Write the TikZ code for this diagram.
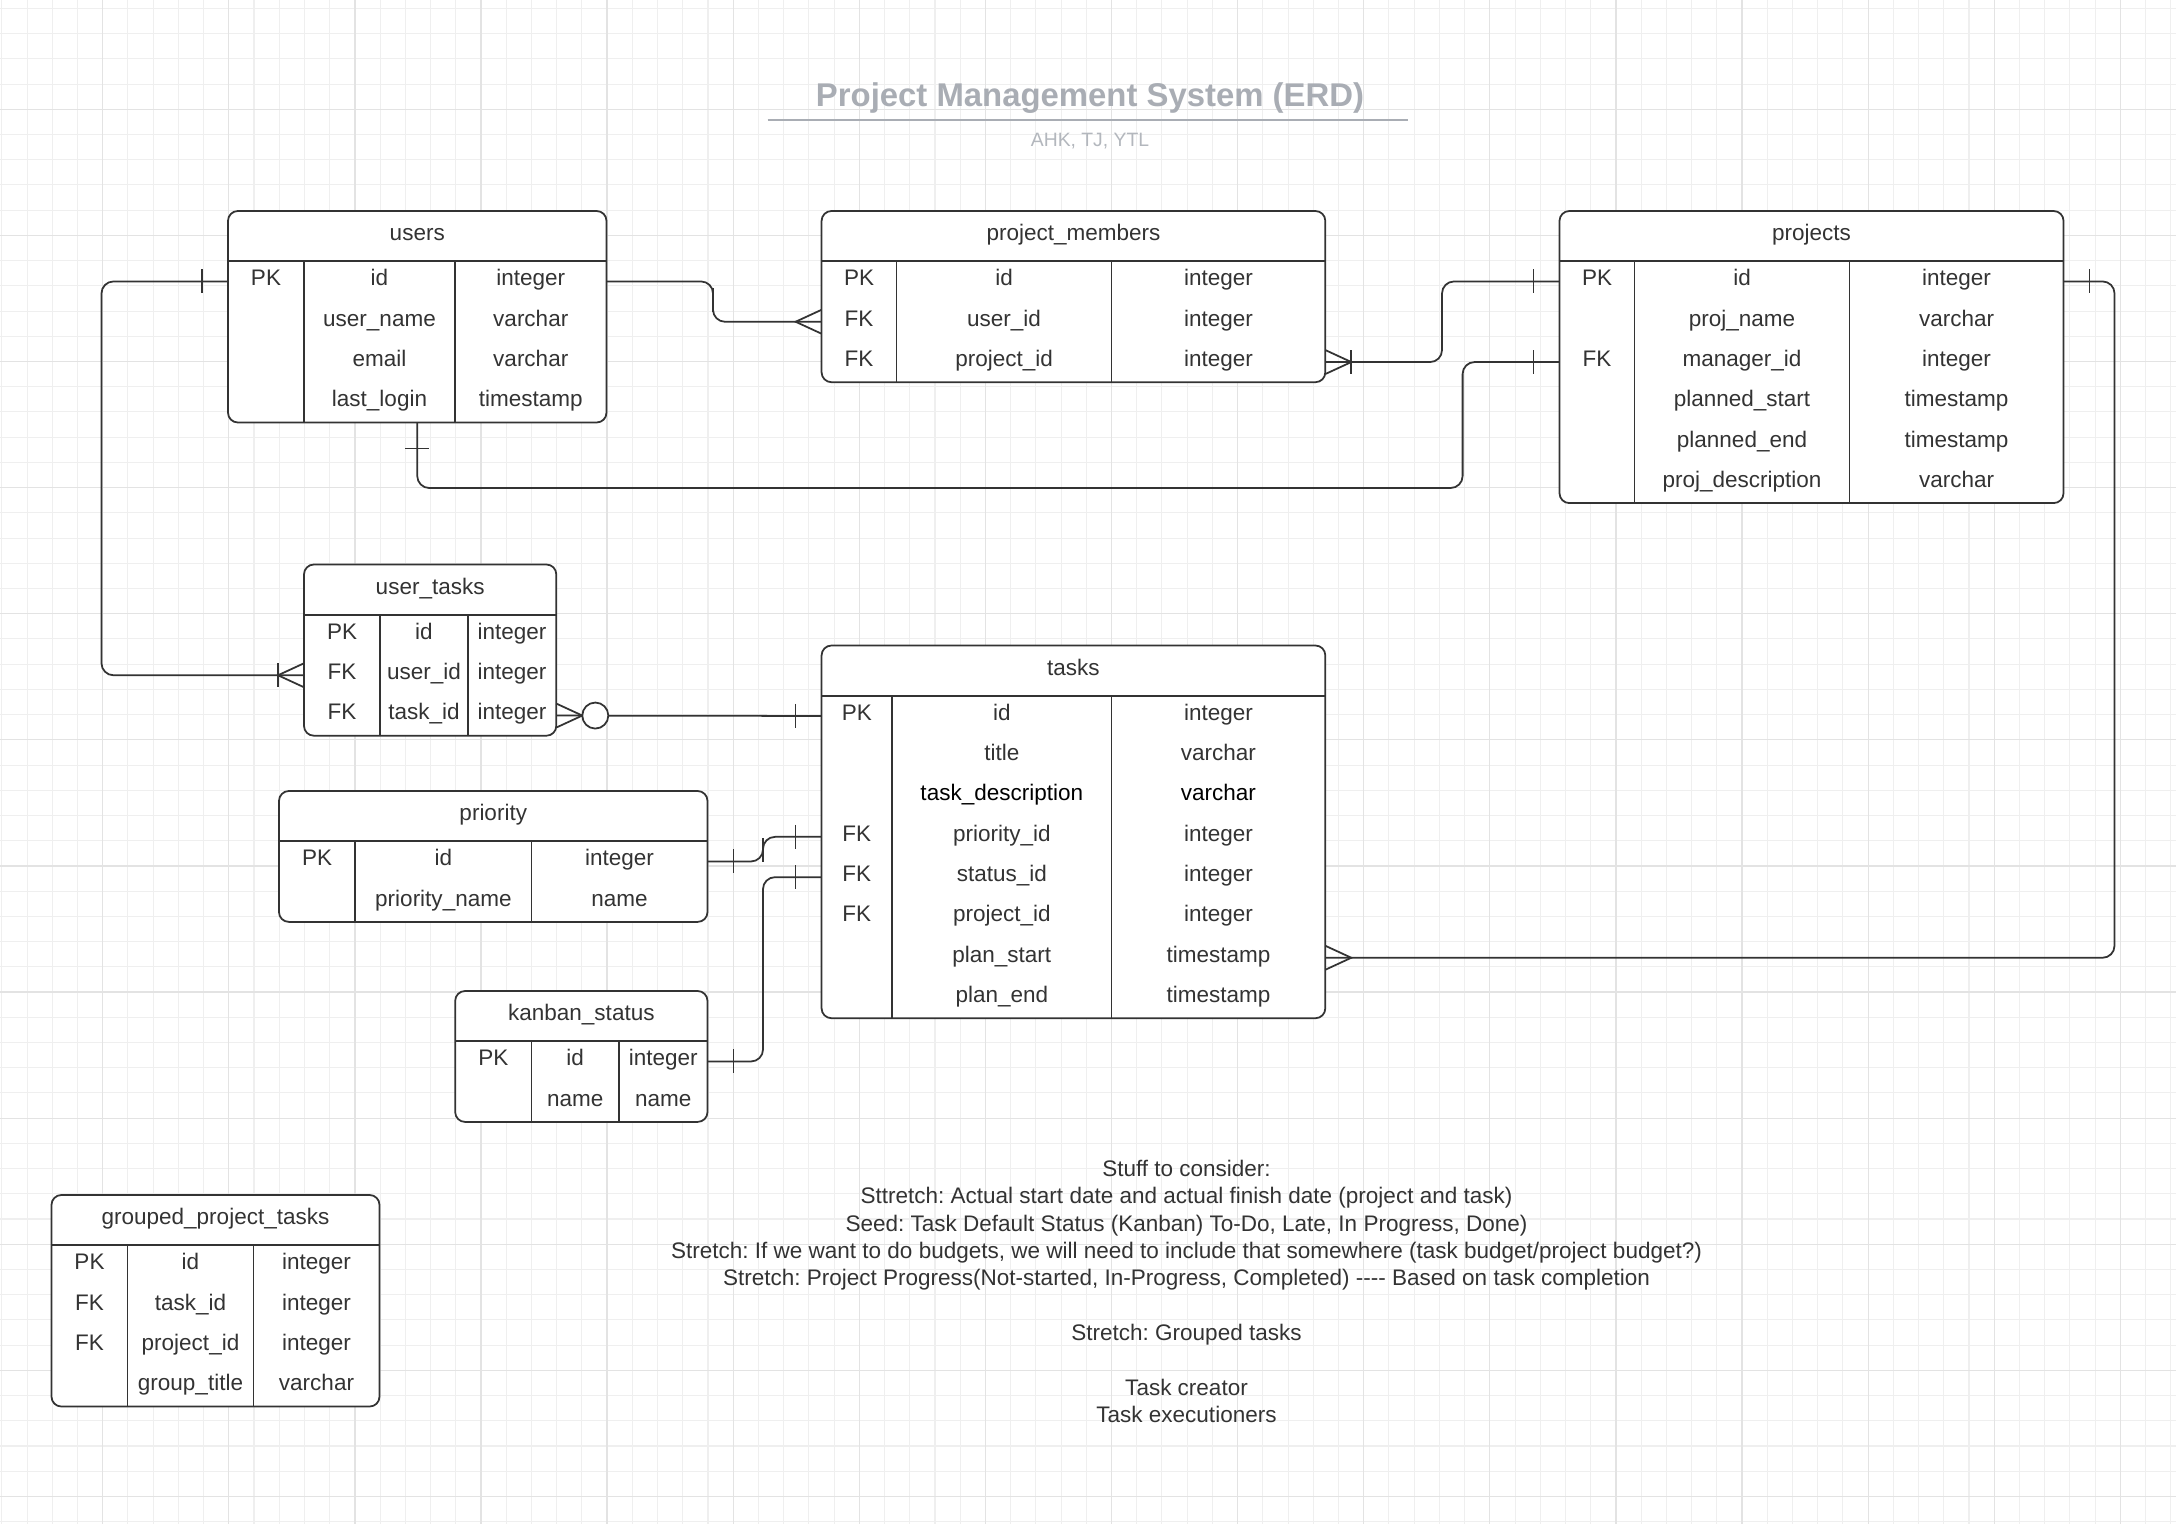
\documentclass[tikz,border=0pt]{standalone}
\usepackage{fontspec}
\setmainfont{Liberation Sans}
\frenchspacing

\definecolor{erdline}{HTML}{333333}
\definecolor{erdtext}{HTML}{333333}
\definecolor{titlegray}{HTML}{A9ADB4}
\definecolor{subgray}{HTML}{B3B7BD}
\definecolor{gridminor}{HTML}{EFEFEF}
\definecolor{gridmajor}{HTML}{E3E3E3}

% #1 name, #2 title, #3 left, #4 top, #5 first divider, #6 second divider, #7 right, #8 rows
\newcommand{\erdtable}[8]{%
  \foreach \ky/\fd/\ty [count=\rw] in {#8} {\xdef\nrows{\rw}}
  \node[tablebox, minimum width={(#7-#3)*0.01cm},
        minimum height={(50.3+40.3*\nrows)*0.01cm}] (#1) at (#3,#4) {};
  \node[cell] (#1-title) at ({(#3+#7)/2},{#4+25.15}) {#2};
  \draw[tableline] (#3,{#4+50.3}) -- (#7,{#4+50.3})
    (#5,{#4+50.3}) -- (#5,{#4+50.3+40.3*\nrows})
    (#6,{#4+50.3}) -- (#6,{#4+50.3+40.3*\nrows});
  \foreach \ky/\fd/\ty [count=\rw] in {#8} {
    \node[cell] (#1-k\rw) at ({(#3+#5)/2},{#4+70.45+40.3*(\rw-1)}) {\ky};
    \node[cell] (#1-\rw) at ({(#5+#6)/2},{#4+70.45+40.3*(\rw-1)}) {\fd};
    \node[cell] (#1-t\rw) at ({(#6+#7)/2},{#4+70.45+40.3*(\rw-1)}) {\ty};
  }
}

\begin{document}
\begin{tikzpicture}[
            x = 0.01cm, y = -0.01cm,
            cell/.style = {
                text = erdtext, inner sep = 0pt,
                font = \fontsize{6.4}{7.7}\selectfont,
                text height = 4.6pt, text depth = 2.1pt,
            },
            tablebox/.style = {
                draw = erdline, fill = white, line width = 0.5pt,
                rounded corners = 2.8pt, anchor = north west,
                inner sep = 0pt, outer sep = 0pt,
            },
            tableline/.style = {draw = erdline, line width = 0.5pt},
            rel/.style = {draw = erdline, line width = 0.5pt, rounded corners = 3.4pt},
            relmark/.style = {draw = erdline, line width = 0.5pt},
            erone/.pic = {\draw[relmark] (-26,-12) -- (-26,12);},
            erbar/.pic = {\draw[relmark] (0,-17) -- (0,17);},
            ermany/.pic = {\draw[relmark] (0,-12) -- (-26,0) -- (0,12);},
            erzero/.pic = {\draw[relmark, fill = white] (-39,0) circle[radius = 0.13cm];},
        ]

        \useasboundingbox (0,0) rectangle (2176,1524);
        \fill[white] (0,0) rectangle (2176,1524);

        % Grid
        \foreach \g in {0,...,86}
            \draw[gridminor, line width = 0.3pt] ({1.82+25.22*\g},0) -- ({1.82+25.22*\g},1524);
        \foreach \g in {0,...,60}
            \draw[gridminor, line width = 0.3pt] (0,{8.42+25.22*\g}) -- (2176,{8.42+25.22*\g});
        \foreach \g in {0,...,16}
            \draw[gridmajor, line width = 0.35pt] ({102.7+126.1*\g},0) -- ({102.7+126.1*\g},1524);
        \foreach \g in {0,...,11}
            \draw[gridmajor, line width = 0.35pt] (0,{109.3+126.1*\g}) -- (2176,{109.3+126.1*\g});

        % Title
        \node[anchor = base, text = titlegray, font = \fontsize{9.35}{11}\selectfont\bfseries]
            (title) at (1090,106.7) {Project Management System (ERD)};
        \draw[titlegray, line width = 0.6pt] (767.7,120) -- (1408,120);
        \node[anchor = base, text = subgray, font = \fontsize{5.5}{6.5}\selectfont]
            (authors) at (1090,146) {AHK, TJ, YTL};

        % Tables
        \erdtable{users}{users}{228}{211}{304}{455}{606.5}
            {PK/id/integer, {}/user\_name/varchar, {}/email/varchar, {}/last\_login/timestamp}
        \erdtable{project_members}{project\_members}{821.6}{211}{896.5}{1111.6}{1325.3}
            {PK/id/integer, FK/user\_id/integer, FK/project\_id/integer}
        \erdtable{projects}{projects}{1559.5}{211}{1634.5}{1849.5}{2063.5}
            {PK/id/integer, {}/proj\_name/varchar, FK/manager\_id/integer,
             {}/planned\_start/timestamp, {}/planned\_end/timestamp, {}/proj\_description/varchar}
        \erdtable{user_tasks}{user\_tasks}{304}{564.5}{380.2}{467.8}{556.3}
            {PK/id/integer, FK/user\_id/integer, FK/task\_id/integer}
        \erdtable{tasks}{tasks}{821.6}{645.5}{892}{1111.6}{1325.3}
            {PK/id/integer, {}/title/varchar,
             {}/\textcolor{black}{task\_description}/\textcolor{black}{varchar},
             FK/priority\_id/integer, FK/status\_id/integer, FK/project\_id/integer,
             {}/plan\_start/timestamp, {}/plan\_end/timestamp}
        \erdtable{priority}{priority}{279}{791}{355.3}{531.5}{707.5}
            {PK/id/integer, {}/priority\_name/name}
        \erdtable{kanban_status}{kanban\_status}{455.2}{991}{531.5}{619}{707.5}
            {PK/id/integer, {}/name/name}
        \erdtable{grouped_tasks}{grouped\_project\_tasks}{51.5}{1195}{127.5}{253.5}{379.5}
            {PK/id/integer, FK/task\_id/integer, FK/project\_id/integer, {}/group\_title/varchar}

        % Relations
        \coordinate (um_bend) at (713,300);
        \coordinate (pp_bend) at (1442,320);
        \coordinate (mgr_bend) at (1462.6,488);
        \coordinate (ut_bend) at (101.5,480);
        \coordinate (pr_bend) at (763,850);
        \coordinate (ks_bend) at (763,950);
        \coordinate (tp_bend) at (2114.5,600);

        \draw[rel] (users.east |- users-1) -| (um_bend) |- (project_members.west |- project_members-2);
        \draw[rel] (project_members.east |- project_members-3) -| (pp_bend) |- (projects.west |- projects-1);
        \draw[rel] (users.south) |- (mgr_bend) |- (projects.west |- projects-3);
        \draw[rel] (users.west |- users-1) -| (ut_bend) |- (user_tasks.west |- user_tasks-2);
        \draw[rel] (user_tasks.east |- user_tasks-3) -- (tasks.west |- tasks-1);
        \draw[rel] (priority.east |- priority-1) -| (pr_bend) |- (tasks.west |- tasks-4);
        \draw[rel] (kanban_status.east |- kanban_status-1) -| (ks_bend) |- (tasks.west |- tasks-5);
        \draw[rel] (tasks.east |- tasks-7) -| (tp_bend) |- (projects.east |- projects-1);

        % Ends
        \pic at (users.east |- users-1) {erbar};
        \pic at (project_members.west |- project_members-2) {ermany};
        \pic[xscale = -1] at (project_members.east |- project_members-3) {ermany};
        \pic[xscale = -1] at (project_members.east |- project_members-3) {erone};
        \pic at (projects.west |- projects-1) {erone};
        \pic[rotate = 90] at (users.south) {erone};
        \pic at (projects.west |- projects-3) {erone};
        \pic at (users.west |- users-1) {erone};
        \pic at (user_tasks.west |- user_tasks-2) {ermany};
        \pic at (user_tasks.west |- user_tasks-2) {erone};
        \pic[xscale = -1] at (user_tasks.east |- user_tasks-3) {ermany};
        \pic[xscale = -1] at (user_tasks.east |- user_tasks-3) {erzero};
        \pic at (tasks.west |- tasks-1) {erone};
        \pic[xscale = -1] at (priority.east |- priority-1) {erone};
        \pic at (tasks.west |- tasks-4) {erone};
        \pic[xscale = -1] at (kanban_status.east |- kanban_status-1) {erone};
        \pic at (tasks.west |- tasks-5) {erone};
        \pic[xscale = -1] at (tasks.east |- tasks-7) {ermany};
        \pic[xscale = -1] at (projects.east |- projects-1) {erone};

        % Notes
        \node[anchor = north, align = center, inner sep = 0pt, text = erdtext,
              font = \fontsize{6.4}{7.77}\selectfont] (notes) at (1186.5,1159.6)
            {Stuff to consider:\\
             Sttretch: Actual start date and actual finish date (project and task)\\
             Seed: Task Default Status (Kanban) To-Do, Late, In Progress, Done)\\
             Stretch: If we want to do budgets, we will need to include that somewhere (task budget/project budget?)\\
             Stretch: Project Progress(Not-started, In-Progress, Completed) -{}-{}-{}- Based on task completion\\
             ~\\
             Stretch: Grouped tasks\\
             ~\\
             Task creator\\
             Task executioners};

    \end{tikzpicture}
\end{document}
